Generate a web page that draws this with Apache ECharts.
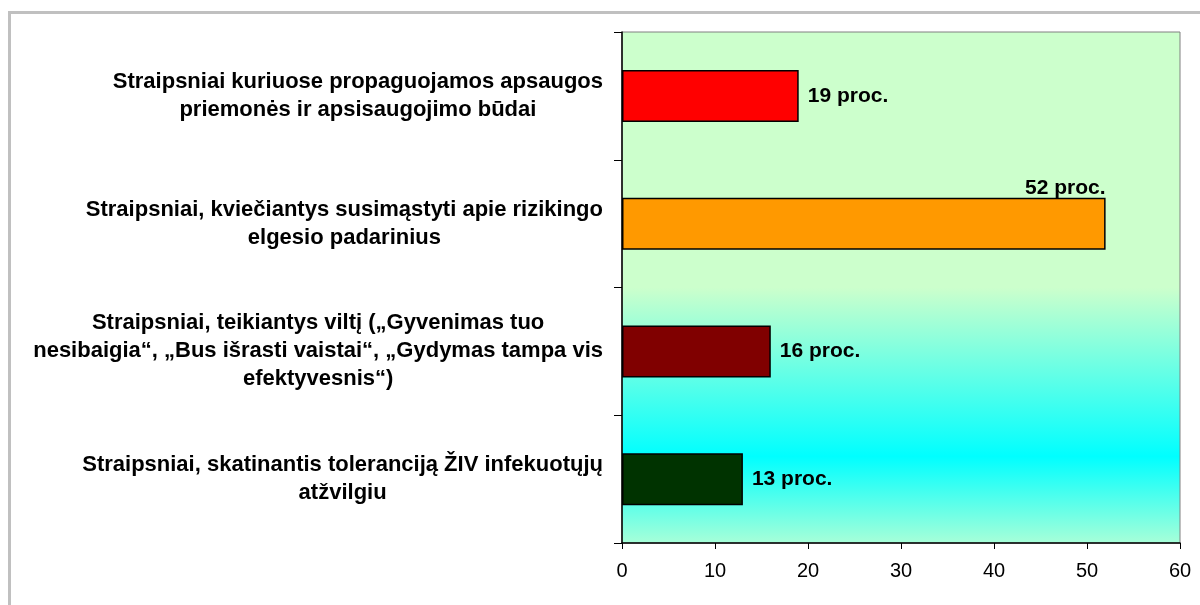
<!DOCTYPE html>
<html>
<head>
<meta charset="utf-8">
<script src="https://cdn.jsdelivr.net/npm/echarts@6/dist/echarts.min.js"></script>
<style>
    html, body { margin: 0; padding: 0; background: #fff; }
    #chart { width: 1200px; height: 605px; }
</style>
</head>
<body>
<div id="chart"></div>
<script>
var categories = [
    'Straipsniai kuriuose propaguojamos apsaugos\npriemonės ir apsisaugojimo būdai',
    'Straipsniai, kviečiantys susimąstyti apie rizikingo\nelgesio padarinius',
    'Straipsniai, teikiantys viltį („Gyvenimas tuo\nnesibaigia“, „Bus išrasti vaistai“, „Gydymas tampa vis\nefektyvesnis“)',
    'Straipsniai, skatinantis toleranciją ŽIV infekuotųjų\natžvilgiu'
];
var values = [19, 52, 16, 13];
var barColors = ['#FF0000', '#FF9900', '#800000', '#003300'];
var valueSuffix = ' proc.';
var xMin = 0, xMax = 60, xStep = 10;

var fontName = '"Liberation Sans", Arial, sans-serif';

var chart = echarts.init(document.getElementById('chart'), null, {renderer: 'canvas'});

var barData = values.map(function (v, i) {
    var item = {
        value: v,
        itemStyle: {color: barColors[i]}
    };
    // the longest bar has its label sitting above the bar end
    if (v === Math.max.apply(null, values)) {
        item.label = {
            position: ['100%', 0],
            align: 'right',
            verticalAlign: 'bottom',
            offset: [0, 1]
        };
    }
    return item;
});

chart.setOption({
    backgroundColor: '#fff',
    animation: false,
    graphic: [{
        type: 'rect',
        shape: {x: 9.5, y: 12.5, width: 1300, height: 700},
        style: {fill: 'none', stroke: '#C0C0C0', lineWidth: 3},
        z: 0
    }],
    grid: {
        left: 622,
        right: 20,
        top: 32,
        bottom: 62,
        show: true,
        borderColor: '#808080',
        borderWidth: 1,
        backgroundColor: {
            type: 'linear', x: 0, y: 0, x2: 0, y2: 1,
            colorStops: [
                {offset: 0, color: '#CCFFCC'},
                {offset: 0.5, color: '#CCFFCC'},
                {offset: 0.83, color: '#00FFFF'},
                {offset: 1, color: '#A8FFD8'}
            ]
        }
    },
    xAxis: {
        type: 'value',
        min: xMin,
        max: xMax,
        interval: xStep,
        splitLine: {show: false},
        axisLine: {show: true, lineStyle: {color: '#000', width: 1.5}},
        axisTick: {show: true, length: 6, lineStyle: {color: '#000'}},
        axisLabel: {
            color: '#000',
            fontFamily: fontName,
            fontSize: 20,
            margin: 18
        }
    },
    yAxis: {
        type: 'category',
        inverse: true,
        data: categories,
        axisLine: {show: true, lineStyle: {color: '#000', width: 1.5}},
        axisTick: {show: true, length: 8, alignWithLabel: false, lineStyle: {color: '#000'}},
        axisLabel: {
            margin: 19,
            align: 'right',
            formatter: function (val) {
                return val.split('\n').map(function (line) {
                    return '{c|' + line + '}';
                }).join('\n');
            },
            rich: {
                c: {
                    align: 'center',
                    color: '#000',
                    fontFamily: fontName,
                    fontWeight: 'bold',
                    fontSize: 22,
                    lineHeight: 28
                }
            }
        }
    },
    series: [{
        name: 'proc.',
        type: 'bar',
        barWidth: 52,
        data: barData,
        itemStyle: {borderColor: '#000', borderWidth: 1.5},
        label: {
            show: true,
            position: 'right',
            distance: 9,
            color: '#000',
            fontFamily: fontName,
            fontWeight: 'bold',
            fontSize: 21,
            formatter: function (p) {
                return p.value + valueSuffix;
            }
        }
    }]
});
</script>
</body>
</html>
